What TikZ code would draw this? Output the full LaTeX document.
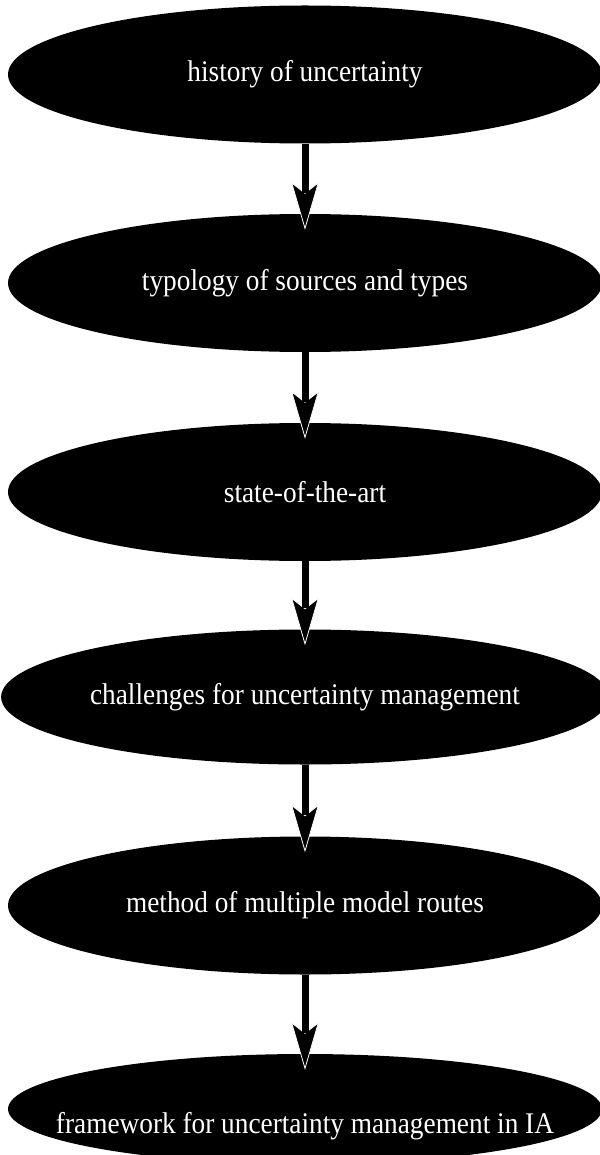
\documentclass[tikz,border=0pt]{standalone}
\usepackage{fontspec}
\newfontfamily\lblfont[FakeStretch=0.91]{Liberation Serif}
\usetikzlibrary{arrows.meta,calc,shapes.geometric}
\tikzset{
  stage/.style={ellipse, fill=black, inner sep=0pt,
    minimum width=594pt, minimum height=138pt,
    text=white, font=\lblfont\fontsize{30}{34}\selectfont},
  caption/.style={text=white, inner sep=0pt, font=\lblfont\fontsize{30}{34}\selectfont},
  flow/.style={line width=7pt,
    -{Stealth[length=48pt, width=28pt, inset=11pt, color=white, fill=black, line width=0.8pt]}},
  shaft/.style={line width=7pt, shorten >=37pt},
}
\begin{document}
\begin{tikzpicture}[x=1pt, y=-1pt]
  \useasboundingbox (0,0) rectangle (599,1155);
  \fill[white] (0,0) rectangle (599,1155);

  % the six stages, top to bottom
  \node[stage] (e1) at (305,74.5) {history of uncertainty};
  \node[stage] (e2) at (305,283) {typology of sources and types};
  \node[stage] (e3) at (305,492) {state-of-the-art};
  \node[stage, minimum height=135pt] (e4) at (305,697) {challenges for uncertainty management};
  \node[stage] (e5) at (305,905.5) {method of multiple model routes};
  \node[stage, minimum height=110pt] (e6) at (305,1109) {};
  \node[caption] (t6) at (305,1126) {framework for uncertainty management in IA};

  % arrow tips end a little inside the next stage
  \foreach \a/\b in {e1/e2, e2/e3, e3/e4, e4/e5, e5/e6} {
    \draw[flow] (\a.south) -- ($(\b.north)+(0,16)$);
    \draw[shaft] (\a.south) -- ($(\b.north)+(0,16)$);
  }
\end{tikzpicture}
\end{document}
